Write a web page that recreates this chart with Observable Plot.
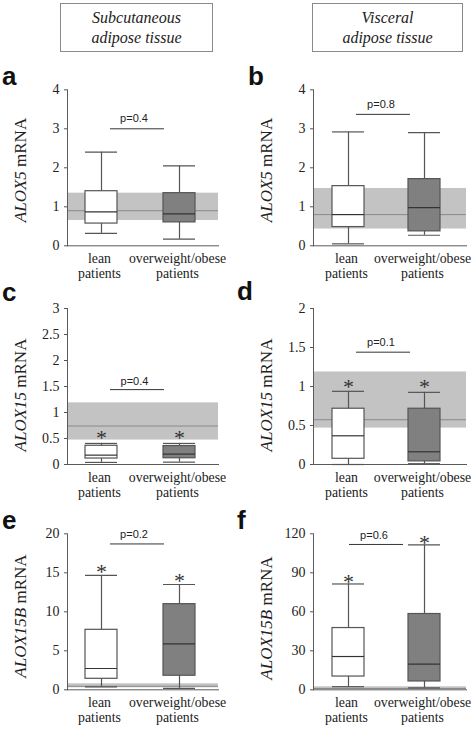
<!DOCTYPE html>
<html><head><meta charset="utf-8">
<script src="https://cdn.jsdelivr.net/npm/d3@7"></script>
<script src="https://cdn.jsdelivr.net/npm/@observablehq/plot@0.6"></script>
<style>
body{margin:0;background:#fff}
#wrap{position:relative;width:472px;height:729px;overflow:hidden;font-family:"Liberation Serif","Times New Roman",serif;color:#222}
.hdr{position:absolute;border:1px solid #8a8a8a;font-style:italic;text-align:center;font-size:16px;line-height:20px;color:#222;box-sizing:border-box;padding-top:4px}
.lett{position:absolute;font-family:"Liberation Sans",Arial,sans-serif;font-weight:bold;font-size:26px;line-height:26px;color:#111}
.ylab{position:absolute;transform:translate(-50%,-50%) rotate(-90deg);white-space:nowrap;font-size:17px;line-height:17px;font-family:"Liberation Serif","Times New Roman",serif}
.panel{position:absolute}
.panel svg{overflow:visible}
</style>
</head><body><div id="wrap"></div>
<script>
// ---- data ----
const groups = ["lean patients", "overweight/obese patients"];
const tissues = ["Subcutaneous", "Visceral"];
const panelIds = ["a", "b", "c", "d", "e", "f"];
const genes = ["ALOX5", "ALOX5", "ALOX15", "ALOX15", "ALOX15B", "ALOX15B"];
const yTicks = [
  [0, 1, 2, 3, 4],
  [0, 1, 2, 3, 4],
  [0, 0.5, 1, 1.5, 2, 2.5, 3],
  [0, 0.5, 1, 1.5, 2],
  [0, 5, 10, 15, 20],
  [0, 30, 60, 90, 120]
];
// box statistics, panels a..f
const leanLow   = [0.32, 0.05, 0.04, 0.00, 0.38, 2.4];
const leanQ1    = [0.57, 0.48, 0.115, 0.073, 1.41, 10.2];
const leanMed   = [0.87, 0.80, 0.18, 0.368, 2.73, 25.6];
const leanQ3    = [1.40, 1.53, 0.36, 0.715, 7.69, 47.5];
const leanHigh  = [2.40, 2.92, 0.405, 0.938, 14.66, 81.4];
const obeseLow  = [0.17, 0.27, 0.045, 0.01, 0.17, 1.5];
const obeseQ1   = [0.60, 0.37, 0.12, 0.04, 1.8, 6.4];
const obeseMed  = [0.82, 0.98, 0.20, 0.163, 5.9, 19.8];
const obeseQ3   = [1.35, 1.71, 0.355, 0.715, 10.98, 58.3];
const obeseHigh = [2.05, 2.90, 0.405, 0.925, 13.5, 111.5];
// significance asterisks (null = none)
const leanStar  = [null, null, 0.62, 1.075, 15.9, 87.8];
const obeseStar = [null, null, 0.62, 1.075, 14.7, 117.9];
// reference range of lean controls (grey band) and its median line
const refLow  = [0.65, 0.43, 0.47, 0.467, 0.26, 0.3];
const refMid  = [0.90, 0.80, 0.74, 0.574, 0.45, 1.0];
const refHigh = [1.35, 1.47, 1.185, 1.186, 0.77, 2.3];
// p values
const pLabels = ["p=0.4", "p=0.8", "p=0.4", "p=0.1", "p=0.2", "p=0.6"];
const pLineY  = [3.0, 3.37, 1.44, 1.44, 18.7, 111.8];
const pTextY  = [3.27, 3.62, 1.6, 1.57, 19.9, 119];

// ---- layout (styling only) ----
const serif = "'Liberation Serif','Times New Roman',serif";
const rows = [
  {top: 60,  mt: 29.3, h: 221.3},
  {top: 280, mt: 28,   h: 219.5},
  {top: 505, mt: 28.3, h: 224.3}
];
const cols = [
  {left: 0,   ml: 67, mr: 18, range: [85, 195], pad: 0.59},
  {left: 236, ml: 77, mr: 6,  range: [96, 204], pad: 0.579}
];
const bracket = [
  {l: 43, r: 54, dx: -9}, {l: 43, r: 56, dx: -9},
  {l: 43, r: 54, dx: -8.5}, {l: 43, r: 56, dx: -9},
  {l: 43, r: 54, dx: -9}, {l: 36, r: 63, dx: -16}
];
const letterPos = [[2, 63], [248, 63], [2, 279], [237, 278], [2, 507], [237, 507]];
const ylabPos = [[19.5, 170], [265.5, 170], [19.5, 395], [265.5, 395], [19.5, 616], [265.5, 618]];

const wrap = document.getElementById("wrap");

// headers
const hdrBoxes = [[60, 3, 153, 49], [312, 3, 151, 49]];
tissues.forEach((t, k) => {
  const d = document.createElement("div");
  d.className = "hdr";
  const [l, tp, w, h] = hdrBoxes[k];
  Object.assign(d.style, {left: l + "px", top: tp + "px", width: w + "px", height: h + "px"});
  d.innerHTML = t + "<br>adipose tissue";
  wrap.appendChild(d);
});

panelIds.forEach((id, i) => {
  const row = rows[Math.floor(i / 2)];
  const col = cols[i % 2];
  const stats = groups.map((g, k) => ({
    group: g,
    low: k ? obeseLow[i] : leanLow[i],
    q1: k ? obeseQ1[i] : leanQ1[i],
    med: k ? obeseMed[i] : leanMed[i],
    q3: k ? obeseQ3[i] : leanQ3[i],
    high: k ? obeseHigh[i] : leanHigh[i],
    star: k ? obeseStar[i] : leanStar[i]
  }));
  const stars = stats.filter(d => d.star != null);
  const yt = yTicks[i];
  const br = bracket[i];
  const chart = Plot.plot({
    width: 236,
    height: row.h,
    marginTop: row.mt,
    marginBottom: row.h - row.mt - 156,
    marginLeft: col.ml,
    marginRight: col.mr,
    x: {type: "band", domain: groups, range: col.range, paddingInner: col.pad, paddingOuter: 0},
    y: {domain: [yt[0], yt[yt.length - 1]]},
    color: {domain: groups, range: ["#ffffff", "#808080"]},
    style: {fontFamily: serif, color: "#222", background: "transparent", overflow: "visible"},
    marks: [
      Plot.rectY([0], {y1: () => refLow[i], y2: () => refHigh[i], fill: "#c3c3c3"}),
      Plot.ruleY([refMid[i]], {stroke: "#8a8a8a", strokeWidth: 1}),
      Plot.frame({anchor: "left", stroke: "#5a5a5a"}),
      Plot.frame({anchor: "bottom", stroke: "#5a5a5a"}),
      Plot.ruleX(stats, {x: "group", y1: "low", y2: "high", stroke: "#555", strokeWidth: 1.2}),
      Plot.barY(stats, {x: "group", y1: "q1", y2: "q3", fill: "group", stroke: "#555", strokeWidth: 1.2}),
      Plot.tickY(stats, {x: "group", y: "low", stroke: "#555", strokeWidth: 1.2}),
      Plot.tickY(stats, {x: "group", y: "high", stroke: "#555", strokeWidth: 1.2}),
      Plot.tickY(stats, {x: "group", y: "med", stroke: "#333", strokeWidth: 1.2}),
      Plot.text(stars, {x: "group", y: "star", text: () => "*", fontSize: 22, fill: "#333", dy: 6, fontFamily: serif}),
      Plot.ruleY([pLineY[i]], {insetLeft: br.l, insetRight: br.r, stroke: "#333"}),
      Plot.text([pLabels[i]], {y: () => pTextY[i], text: d => d, dx: br.dx, fontSize: 11, fill: "#222", fontFamily: "'Liberation Sans',Arial,sans-serif"}),
      Plot.axisY({ticks: yt, tickFormat: d => String(d), tickSize: 3, tickPadding: 5, fontSize: 14, fontFamily: serif, fill: "#222", label: null, stroke: "#555"}),
      Plot.axisX({tickSize: 0, tickPadding: 7, fontSize: 13.8, fontFamily: serif, fill: "#222", lineHeight: 1.07, dx: -2, label: null, tickFormat: d => d.replace(" ", "\n")})
    ]
  });
  const holder = document.createElement("div");
  holder.className = "panel";
  holder.style.left = col.left + "px";
  holder.style.top = row.top + "px";
  holder.appendChild(chart);
  wrap.appendChild(holder);

  const lt = document.createElement("div");
  lt.className = "lett";
  lt.style.left = letterPos[i][0] + "px";
  lt.style.top = letterPos[i][1] + "px";
  lt.textContent = id;
  wrap.appendChild(lt);

  const yl = document.createElement("div");
  yl.className = "ylab";
  yl.style.left = ylabPos[i][0] + "px";
  yl.style.top = ylabPos[i][1] + "px";
  const it = document.createElement("i");
  it.textContent = genes[i];
  yl.appendChild(it);
  yl.appendChild(document.createTextNode(" mRNA"));
  wrap.appendChild(yl);
});
</script>
</body></html>
